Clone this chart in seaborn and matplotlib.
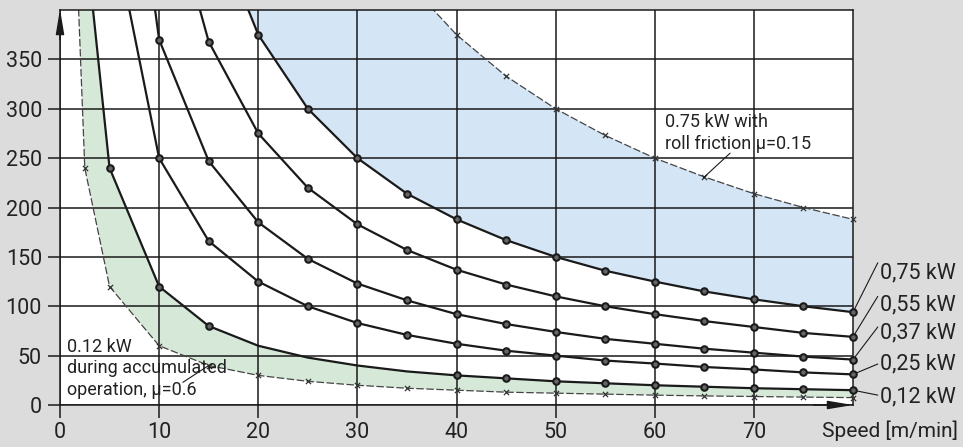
import pandas as pd
import matplotlib.pyplot as plt
import seaborn as sns

# Load per motor power: speed [m/min] -> load
kw012_x = [2.5, 5, 10, 15, 20, 25, 30, 35, 40, 45, 50, 55, 60, 65, 70, 75, 80]
kw012_y = [480, 240, 120, 80, 60, 48, 40, 34, 30, 27, 24, 22, 20, 18.5, 17, 16, 15]
kw012_marked = [5, 10, 15, 40, 45, 50, 55, 60, 65, 70, 75, 80]

kw025_x = [5, 10, 15, 20, 25, 30, 35, 40, 45, 50, 55, 60, 65, 70, 75, 80]
kw025_y = [500, 250, 166, 125, 100, 83, 71, 62, 55, 50, 45, 42, 38.5, 36, 33, 31]

kw037_x = [5, 10, 15, 20, 25, 30, 35, 40, 45, 50, 55, 60, 65, 70, 75, 80]
kw037_y = [740, 370, 247, 185, 148, 123, 106, 92, 82, 74, 67, 62, 57, 53, 49, 46]

kw055_x = [10, 15, 20, 25, 30, 35, 40, 45, 50, 55, 60, 65, 70, 75, 80]
kw055_y = [550, 368, 275, 220, 183, 157, 137, 122, 110, 100, 92, 85, 79, 73, 69]

kw075_x = [15, 20, 25, 30, 35, 40, 45, 50, 55, 60, 65, 70, 75, 80]
kw075_y = [500, 375, 300, 250, 214, 188, 167, 150, 136, 125, 115, 107, 100, 94]

# 0.12 kW during accumulated operation (mu=0.6)
accum_x = [1.8, 2.5, 5, 10, 15, 20, 25, 30, 35, 40, 45, 50, 55, 60, 65, 70, 75, 80]
accum_y = [420, 240, 120, 60, 40, 30, 24, 20, 17, 15, 13, 12, 11, 10, 9.2, 8.6, 8, 7.5]

# 0.75 kW with roll friction (mu=0.15)
roll_x = [35, 40, 45, 50, 55, 60, 65, 70, 75, 80]
roll_y = [429, 375, 333, 300, 273, 250, 231, 214, 200, 188]

power_labels = ["0,75 kW", "0,55 kW", "0,37 kW", "0,25 kW", "0,12 kW"]
x_ticks = [0, 10, 20, 30, 40, 50, 60, 70]
y_ticks = [0, 50, 100, 150, 200, 250, 300, 350]

sns.set_theme(style="white")
plt.rcParams["font.family"] = ["Roboto", "DejaVu Sans"]

ink = "#1a1a1a"
txt = "#222222"
fig = plt.figure(figsize=(9.63, 4.47), dpi=100, facecolor="#dcdcdc")
ax = fig.add_axes([60 / 963, 42 / 447, 793 / 963, 395 / 447])
ax.set_facecolor("white")

# shaded bands
ax.fill(kw075_x + roll_x[::-1], kw075_y + roll_y[::-1], color="#d4e5f6", lw=0, zorder=0.2)
ax.fill(kw012_x + accum_x[::-1], kw012_y + accum_y[::-1], color="#d6e9d9", lw=0, zorder=0.2)

# motor power curves
curves = [(kw075_x, kw075_y), (kw055_x, kw055_y), (kw037_x, kw037_y),
          (kw025_x, kw025_y), (kw012_x, kw012_y)]
for cx, cy in curves:
    df = pd.DataFrame({"speed": cx, "load": cy})
    sns.lineplot(data=df, x="speed", y="load", color=ink, lw=1.6,
                 estimator=None, ax=ax, zorder=3)
    if cx is kw012_x:
        df = df[df["speed"].isin(kw012_marked)]
    else:
        df = df[df["load"] <= 400]
    sns.scatterplot(data=df, x="speed", y="load", s=22, color="#666666",
                    edgecolor=ink, linewidth=1.5, ax=ax, zorder=4, clip_on=False)

# dashed limit curves
for cx, cy in [(accum_x, accum_y), (roll_x, roll_y)]:
    df = pd.DataFrame({"speed": cx, "load": cy})
    sns.lineplot(data=df, x="speed", y="load", color="#444444", lw=0.9,
                 linestyle=(0, (6, 2)), estimator=None, ax=ax, zorder=2.5)
    df = df[df["load"] <= 400]
    sns.scatterplot(data=df, x="speed", y="load", marker="x", s=14,
                    color="#333333", linewidth=0.9, ax=ax, zorder=2.6, clip_on=False)

ax.set_xlim(0, 80)
ax.set_ylim(0, 400)
ax.set_xticks(x_ticks)
ax.set_yticks(y_ticks)
ax.set_xlabel("")
ax.set_ylabel("")
ax.grid(True, color=ink, lw=1.1)
ax.set_axisbelow(True)
for sp in ax.spines.values():
    sp.set_visible(True)
    sp.set_color(ink)
    sp.set_linewidth(1.1)
ax.tick_params(axis="both", length=9, width=1.1, color=ink, labelsize=15.5,
               labelcolor=txt, bottom=True, left=True)
ax.tick_params(axis="x", pad=3)
ax.tick_params(axis="y", pad=4)

# axis arrows
arrow = dict(arrowstyle="-|>,head_length=1.5,head_width=0.25", color=ink, lw=1.1,
             shrinkA=0, shrinkB=0, mutation_scale=10)
ax.annotate("", xy=(0, 401), xytext=(0, 370), arrowprops=arrow, annotation_clip=False)
ax.annotate("", xy=(80, 0), xytext=(76, 0), arrowprops=arrow, annotation_clip=False)

# labels at the right end of each curve
label_y = [134, 101, 73, 41.5, 8]
leader_y = [144, 110, 79, 41.5, 10]
for (cx, cy), lab, ly, le in zip(curves, power_labels, label_y, leader_y):
    ax.plot([cx[-1], 82.5], [cy[-1], le], color=ink, lw=0.8, clip_on=False)
    ax.text(82.7, ly, lab, ha="left", va="center", fontsize=15.5, color=txt)

# notes
ax.text(0.7, 37, "0.12 kW\nduring accumulated\noperation, \u03bc=0.6", ha="left",
        va="center", fontsize=13, linespacing=1.25, color=txt, zorder=5)
ax.plot([12.4, 15], [23, 40], color=ink, lw=0.8, zorder=5)
ax.text(61, 275.5, "0.75 kW with\nroll friction \u03bc=0.15", ha="left",
        va="center", fontsize=13, linespacing=1.25, color=txt, zorder=5)
ax.plot([67.6, 64.9], [255, 230], color=ink, lw=0.8, zorder=5)

fig.text(822 / 963, 1 - 431 / 447, "Speed [m/min]", ha="left", va="center",
         fontsize=15, color=txt)

fig.savefig("out.png", dpi=100, facecolor=fig.get_facecolor())
